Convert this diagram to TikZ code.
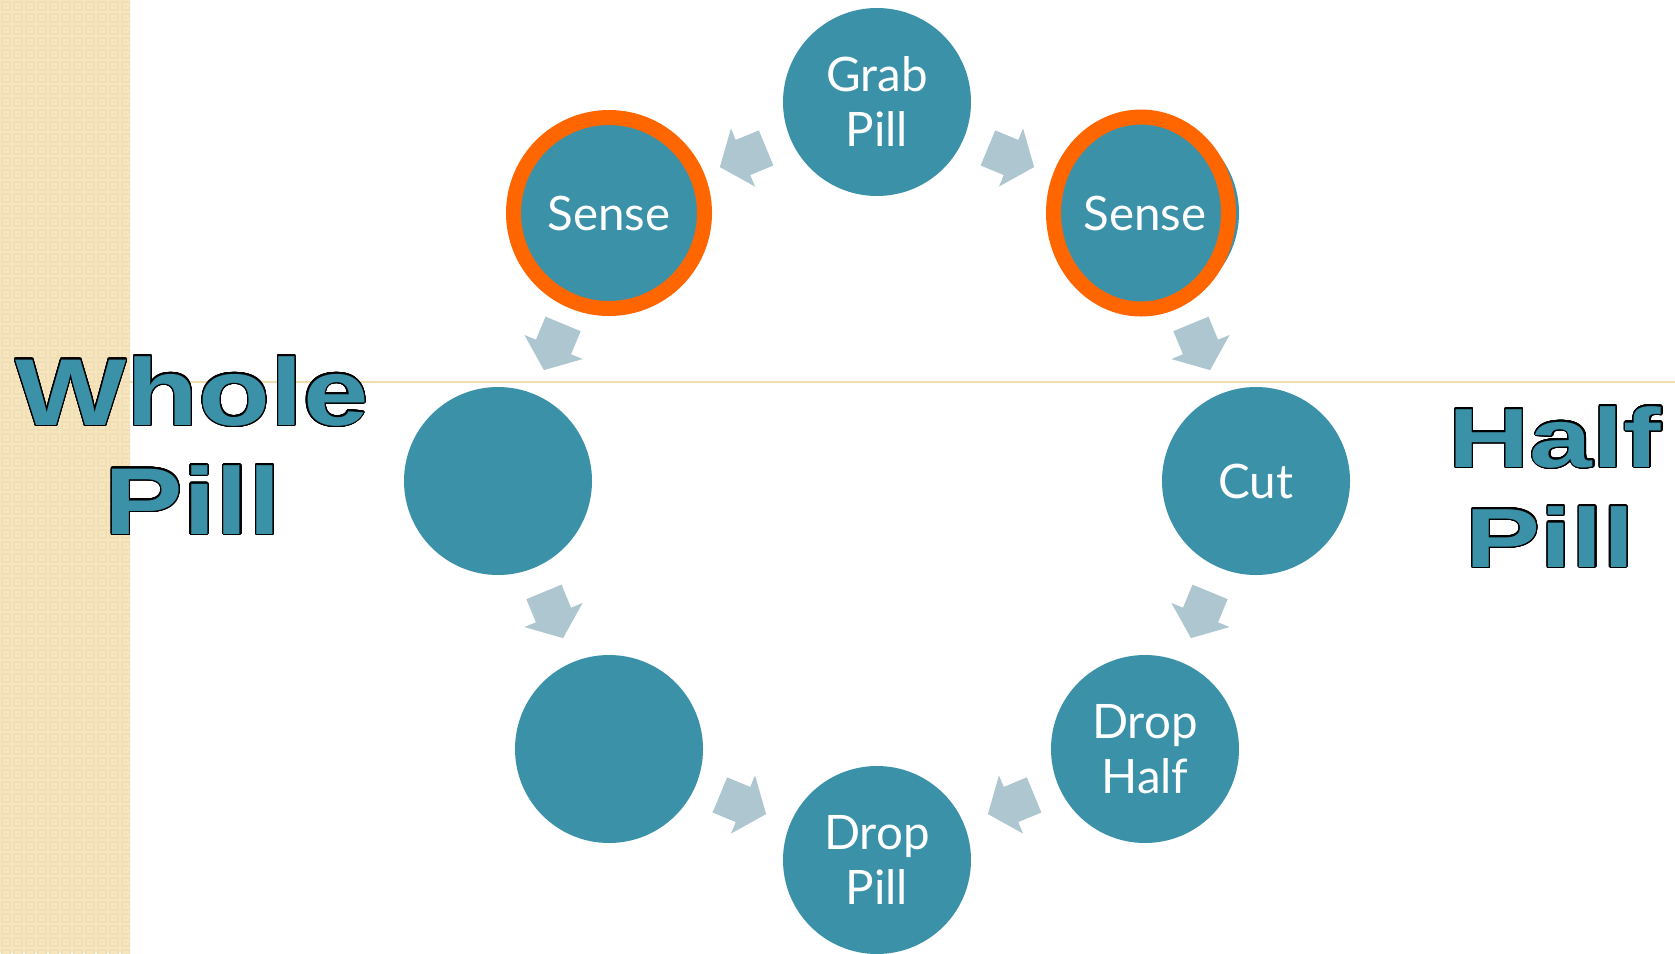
\documentclass[tikz,border=0pt]{standalone}
\usepackage{fontspec}
\usepackage[copies]{contour}
\usetikzlibrary{calc}
\setmainfont{Lato}
\newfontfamily\wholefont{Liberation Sans Bold}[FakeStretch=1.24]
\newfontfamily\halffont{Liberation Sans Bold}[FakeStretch=1.34]
\definecolor{stageteal}{HTML}{3A91A8}
\definecolor{ringorange}{HTML}{FF6600}
\definecolor{flowgrey}{HTML}{AEC6D0}
\definecolor{stripbase}{HTML}{F7E6BD}
\definecolor{stripdark}{HTML}{F0DEB6}
\definecolor{stripline}{HTML}{F0DDAE}
\contourlength{1.3pt}
\contournumber{32}

\begin{document}
\begin{tikzpicture}[x=1pt,y=1pt,
  stage/.style={circle, fill=stageteal, minimum size=188pt, inner sep=0pt,
    text=white, align=center, font=\fontsize{47.5}{55}\selectfont},
  ring/.style={draw=ringorange, line width=15pt},
  flowarrow/.pic={\fill[flowgrey] (-25,-19) -- (0,-19) -- (0,-31.5) -- (25,0)
    -- (0,31.5) -- (0,19) -- (-25,19) -- cycle;},
  banner/.style={text=stageteal, inner sep=0pt, anchor=base},
  flow/.style={midway, sloped, allow upside down},
]
\useasboundingbox (0,0) rectangle (1675,-953);
\fill[white] (0,0) rectangle (1675,-953);

% textured side strip
\begin{scope}
  \clip (0,0) rectangle (130,-953);
  \fill[stripbase] (0,0) rectangle (130,-953);
  \foreach \i in {0,...,10}
    \foreach \j in {0,...,79} {
      \fill[stripdark] (\i*12+1,-\j*12-1) rectangle ++(10,-10);
      \fill[stripbase] (\i*12+3,-\j*12-3) rectangle ++(6,-6);
      \fill[stripdark] (\i*12+5,-\j*12-5) rectangle ++(2,-2);
    }
\end{scope}
\draw[stripline, line width=1.2pt] (130,-382) -- (1675,-382);

% process stages on a ring
\coordinate (ctr) at (877,-481);
\node[stage] (n0) at ([shift={(90:379)}]ctr) {Grab\\Pill};
\node[stage] (n1) at ([shift={(45:379)}]ctr) {Sense};
\node[stage] (n2) at ([shift={(0:379)}]ctr) {Cut};
\node[stage] (n3) at ([shift={(-45:379)}]ctr) {Drop\\Half};
\node[stage] (n4) at ([shift={(-90:379)}]ctr) {Drop\\Pill};
\node[stage] (n5) at ([shift={(-135:379)}]ctr) {};
\node[stage] (n6) at ([shift={(180:379)}]ctr) {};
\node[stage] (n7) at ([shift={(135:379)}]ctr) {Sense};

% highlighted sensing stages
\draw[ring] (n7.center) circle[radius=95.5];
\draw[ring] ($(n1.center)+(-4,0)$) ellipse[x radius=87.5, y radius=96];

% flow arrows
\path (n0.center) -- (n1.center) pic[flow] {flowarrow};
\path (n1.center) -- (n2.center) pic[flow] {flowarrow};
\path (n2.center) -- (n3.center) pic[flow] {flowarrow};
\path (n3.center) -- (n4.center) pic[flow] {flowarrow};
\path (n0.center) -- (n7.center) pic[flow] {flowarrow};
\path (n7.center) -- (n6.center) pic[flow] {flowarrow};
\path (n6.center) -- (n5.center) pic[flow] {flowarrow};
\path (n5.center) -- (n4.center) pic[flow] {flowarrow};

% branch labels
\node[banner, font=\wholefont\fontsize{95}{109}\selectfont] (whole) at (192,-425) {\contour{black}{Whole}};
\node[banner, font=\wholefont\fontsize{95}{109}\selectfont] (wholepill) at (193,-534) {\contour{black}{Pill}};
\node[banner, font=\halffont\fontsize{84}{100}\selectfont] (half) at (1555,-467) {\contour{black}{Half}};
\node[banner, font=\halffont\fontsize{84}{100}\selectfont] (halfpill) at (1550,-567) {\contour{black}{Pill}};
\end{tikzpicture}
\end{document}
